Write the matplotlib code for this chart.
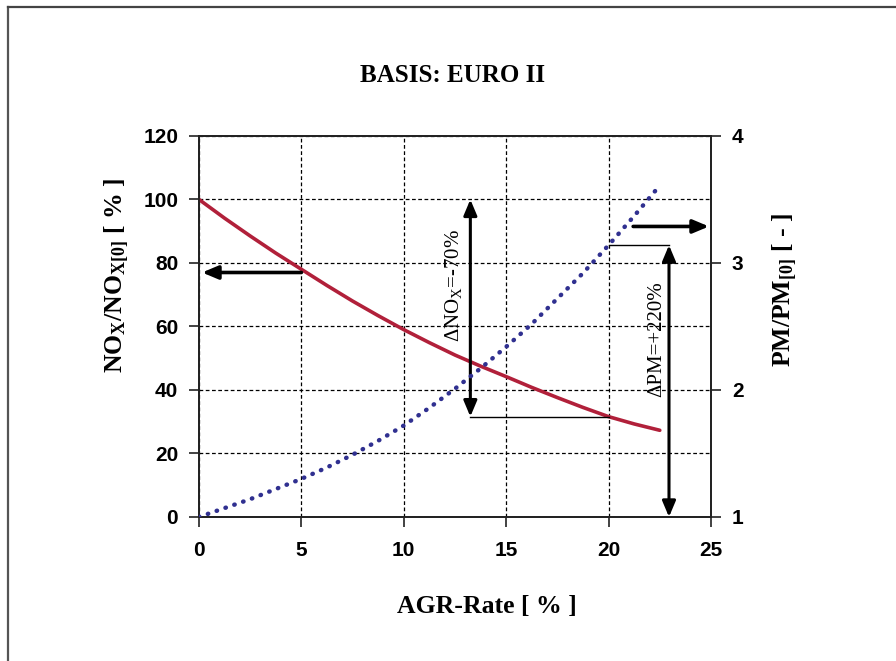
import matplotlib
matplotlib.use("Agg")
import matplotlib.pyplot as plt
from matplotlib.lines import Line2D

# EGR sweep: relative NOx and particulate emissions (basis EURO II)
agr_rate = [0, 1.25, 2.5, 3.75, 5, 6.25, 7.5, 8.75, 10, 11.25, 12.5,
            13.75, 15, 16.25, 17.5, 18.75, 20, 21.25, 22.5]
nox_rel = [100, 94.1, 88.5, 83.1, 78, 72.9, 68, 63.4, 59, 54.9, 51,
           47.5, 44.2, 40.8, 37.6, 34.5, 31.6, 29.3, 27.3]
pm_rel = [1.0, 1.07, 1.14, 1.22, 1.30, 1.39, 1.49, 1.60, 1.72, 1.86, 2.01,
          2.17, 2.34, 2.52, 2.72, 2.92, 3.14, 3.37, 3.61]

x_ticks = [0, 5, 10, 15, 20, 25]
nox_ticks = [0, 20, 40, 60, 80, 100, 120]
pm_ticks = [1, 2, 3, 4]

# Annotated changes
nox_drop_x = 13.25
nox_start, nox_end = 100, 31.6
pm_rise_x = 22.95
pm_start, pm_end = 1.0, 3.14
nox_label = "ΔNO$_X$=-70%"
pm_label = "ΔPM=+220%"

plt.rcParams["mathtext.default"] = "regular"

fig = plt.figure(figsize=(8.96, 6.61), dpi=100)
ax = fig.add_axes([0.2221, 0.2179, 0.5714, 0.5764])
ax2 = ax.twinx()

red = "#b1203a"
navy = "#303090"

ax.plot(agr_rate, nox_rel, color=red, lw=2.6, solid_capstyle="round",
        solid_joinstyle="round", zorder=3)
ax2.plot(agr_rate, pm_rel, color=navy, lw=3.2, linestyle=(0, (0.1, 2.0)),
         dash_capstyle="round", zorder=3)

ax.set_xlim(0, 25)
ax.set_ylim(0, 120)
ax2.set_ylim(1, 4)
ax.set_xticks(x_ticks)
ax.set_yticks(nox_ticks)
ax2.set_yticks(pm_ticks)

tick_font = dict(family="Liberation Sans", weight="bold", size=15)
for a in (ax, ax2):
    for s in a.spines.values():
        s.set_linewidth(1.3)
        s.set_color("#222222")
    a.tick_params(direction="out", length=7, width=1.2, color="#222222", pad=8)
ax.set_xticklabels([str(v) for v in x_ticks], fontdict=tick_font)
ax.set_yticklabels([str(v) for v in nox_ticks], fontdict=tick_font)
ax2.set_yticklabels([str(v) for v in pm_ticks], fontdict=tick_font)
ax.tick_params(axis="x", pad=10)

ax.grid(True, color="black", linestyle=(0, (3, 2)), linewidth=0.9)
ax.set_axisbelow(True)

# Double-headed arrows marking the changes
arrow_kw = dict(arrowstyle="<|-|>,head_length=0.95,head_width=0.4",
                color="black", lw=2.2, shrinkA=0, shrinkB=0)
ax.annotate("", xy=(nox_drop_x, nox_start), xytext=(nox_drop_x, nox_end),
            arrowprops=arrow_kw, zorder=4)
ax.plot([nox_drop_x, 20], [nox_end, nox_end], color="black", lw=1.0, zorder=4)
ax2.annotate("", xy=(pm_rise_x, pm_end), xytext=(pm_rise_x, pm_start),
             arrowprops=arrow_kw, zorder=4)
ax2.plot([20, pm_rise_x], [pm_end, pm_end], color="black", lw=1.0, zorder=4)

txt_font = dict(family="Liberation Serif", size=15)
ax.text(12.45, 73, nox_label, rotation=90, ha="center", va="center",
        fontdict=txt_font, zorder=5)
ax.text(22.35, 56, pm_label, rotation=90, ha="center", va="center",
        fontdict=txt_font, zorder=5)

# Arrows pointing to the matching axis
side_kw = dict(arrowstyle="-|>,head_length=0.95,head_width=0.4",
               color="black", lw=2.6, shrinkA=0, shrinkB=0)
ax.annotate("", xy=(0.15, 77), xytext=(5, 77), arrowprops=side_kw, zorder=4)
ax.annotate("", xy=(24.9, 91.5), xytext=(21.2, 91.5), arrowprops=side_kw, zorder=4)

lab_font = dict(family="Liberation Serif", weight="bold", size=18.5)
fig.text(453 / 896, 1 - 76 / 661, "BASIS: EURO II", ha="center", va="center",
         fontdict=dict(family="Liberation Serif", weight="bold", size=18))
fig.text(487 / 896, 1 - 607 / 661, "AGR-Rate [ % ]", ha="center", va="center",
         fontdict=lab_font)
fig.text(117 / 896, 1 - 275 / 661, "NO$_X$/NO$_{X[0]}$ [ % ]", rotation=90,
         ha="center", va="center", fontdict=lab_font)
fig.text(785 / 896, 1 - 290 / 661, "PM/PM$_{[0]}$ [ - ]", rotation=90,
         ha="center", va="center", fontdict=lab_font)

# Frame lines along the top and left edge
fig.add_artist(Line2D([8 / 896, 8 / 896], [0, 1 - 7 / 661], color="#555555",
                      lw=1.6, transform=fig.transFigure))
fig.add_artist(Line2D([8 / 896, 1], [1 - 7 / 661, 1 - 7 / 661], color="#444444",
                      lw=1.6, transform=fig.transFigure))

fig.savefig("out.png", dpi=100)
